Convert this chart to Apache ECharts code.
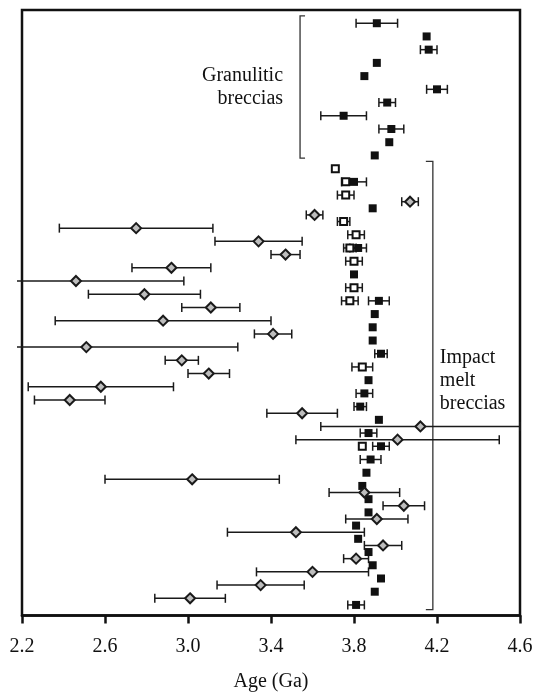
<!DOCTYPE html>
<html>
<head>
<meta charset="utf-8">
<script src="https://cdn.jsdelivr.net/npm/echarts@6/dist/echarts.min.js"></script>
<style>
  html, body { margin: 0; padding: 0; background: #fff; }
  #chart { width: 535px; height: 692px; }
</style>
</head>
<body>
<div id="chart"></div>
<script>
// Age axis tick values (Ga)
const ageTicks = [2.2, 2.6, 3.0, 3.4, 3.8, 4.2, 4.6];

// Filled squares: sample row, age (Ga), error (Ga)
const filledRows = [0, 1, 2, 3, 4, 5, 6, 7, 8, 9, 10, 12, 14, 17, 19, 21, 22, 23, 24, 25, 27, 28, 29, 30, 31, 32, 33, 34, 35, 36, 37, 38, 39, 40, 41, 42, 43, 44];
const filledAges = [3.91, 4.15, 4.16, 3.91, 3.85, 4.20, 3.96, 3.75, 3.98, 3.97, 3.90, 3.80, 3.89, 3.82, 3.80, 3.92, 3.90, 3.89, 3.89, 3.93, 3.87, 3.85, 3.83, 3.92, 3.87, 3.93, 3.88, 3.86, 3.84, 3.87, 3.87, 3.81, 3.82, 3.87, 3.89, 3.93, 3.90, 3.81];
const filledErrs = [0.10, 0, 0.04, 0, 0, 0.05, 0.04, 0.11, 0.06, 0, 0, 0.06, 0, 0.04, 0, 0.05, 0, 0, 0, 0.03, 0, 0.04, 0.03, 0, 0.04, 0.04, 0.05, 0, 0, 0, 0, 0, 0, 0, 0, 0, 0, 0.04];

// Open squares
const openRows = [11, 12, 13, 15, 16, 17, 18, 20, 21, 26, 32];
const openAges = [3.71, 3.76, 3.76, 3.75, 3.81, 3.78, 3.80, 3.80, 3.78, 3.84, 3.84];
const openErrs = [0, 0, 0.04, 0.03, 0.04, 0.03, 0.04, 0.04, 0.04, 0.05, 0];

// Grey diamonds
const diamondRows = [13.5, 14.5, 15.5, 16.5, 17.5, 18.5, 19.5, 20.5, 21.5, 22.5, 23.5, 24.5, 25.5, 26.5, 27.5, 28.5, 29.5, 30.5, 31.5, 34.5, 35.5, 36.5, 37.5, 38.5, 39.5, 40.5, 41.5, 42.5, 43.5];
const diamondAges = [4.07, 3.61, 2.75, 3.34, 3.47, 2.92, 2.46, 2.79, 3.11, 2.88, 3.41, 2.51, 2.97, 3.10, 2.58, 2.43, 3.55, 4.12, 4.01, 3.02, 3.85, 4.04, 3.91, 3.52, 3.94, 3.81, 3.60, 3.35, 3.01];
const diamondErrs = [0.04, 0.04, 0.37, 0.21, 0.07, 0.19, 0.52, 0.27, 0.14, 0.52, 0.09, 0.73, 0.08, 0.10, 0.35, 0.17, 0.17, 0.48, 0.49, 0.42, 0.17, 0.10, 0.15, 0.33, 0.09, 0.06, 0.27, 0.21, 0.17];

// Group labels and the rows each bracket spans
const groupLabels = ['Granulitic\nbreccias', 'Impact\nmelt\nbreccias'];
const groupSpans = [[-0.55, 10.2], [10.45, 44.35]];

const SERIF = '"Liberation Serif", "DejaVu Serif", serif';
const INK = '#111';

// Bracket drawing layout (age position of the bracket spine, tick direction, label offsets)
const bracketLayout = [
  { age: 3.54, side: 1, tick: 5, textDx: -17, textDy: 0, align: 'right' },
  { age: 4.18, side: -1, tick: 7, textDx: 7, textDy: -5, align: 'left' }
];

function toPoints(rows, ages, errs) {
  return rows.map((r, i) => [ages[i], r, errs[i]]);
}

const BAR_OVERRUN = 5; // bars longer than the axis run a few px past the frame
const CAP = 4.5;

function errorBarItem(params, api) {
  const age = api.value(0), row = api.value(1), err = api.value(2);
  if (!err) return null;
  const lo = api.coord([age - err, row]);
  const hi = api.coord([age + err, row]);
  const cs = params.coordSys;
  const leftLimit = cs.x - BAR_OVERRUN;
  const rightLimit = cs.x + cs.width;
  const x1 = Math.max(lo[0], leftLimit);
  const x2 = Math.min(hi[0], rightLimit);
  const y = lo[1];
  const style = { stroke: '#1a1a1a', lineWidth: 1.5 };
  const children = [{ type: 'line', shape: { x1: x1, y1: y, x2: x2, y2: y }, style: style }];
  if (lo[0] >= leftLimit) children.push({ type: 'line', shape: { x1: lo[0], y1: y - CAP, x2: lo[0], y2: y + CAP }, style: style });
  if (hi[0] <= rightLimit) children.push({ type: 'line', shape: { x1: hi[0], y1: y - CAP, x2: hi[0], y2: y + CAP }, style: style });
  return { type: 'group', children: children };
}

function bracketItem(params, api) {
  const b = bracketLayout[params.dataIndex];
  const top = api.coord([api.value(0), api.value(1)]);
  const bot = api.coord([api.value(0), api.value(2)]);
  const x = top[0];
  return {
    type: 'group',
    children: [
      {
        type: 'polyline',
        shape: { points: [[x + b.side * b.tick, top[1]], [x, top[1]], [x, bot[1]], [x + b.side * b.tick, bot[1]]] },
        style: { stroke: '#333', lineWidth: 1.3, fill: null }
      },
      {
        type: 'text',
        x: x + b.textDx,
        y: (top[1] + bot[1]) / 2 + b.textDy,
        style: {
          text: groupLabels[params.dataIndex],
          font: '20px ' + SERIF,
          fill: INK,
          align: b.align,
          verticalAlign: 'middle',
          lineHeight: 23
        }
      }
    ]
  };
}

const filled = toPoints(filledRows, filledAges, filledErrs);
const open = toPoints(openRows, openAges, openErrs);
const diamonds = toPoints(diamondRows, diamondAges, diamondErrs);

const chart = echarts.init(document.getElementById('chart'), null, { renderer: 'canvas' });

chart.setOption({
  animation: false,
  backgroundColor: '#fff',
  grid: {
    left: 22, right: 15, top: 10, bottom: 76.5,
    containLabel: false,
    outerBoundsMode: 'none',
    show: true, borderColor: INK, borderWidth: 2.5, backgroundColor: 'transparent'
  },
  xAxis: {
    type: 'value',
    min: ageTicks[0],
    max: ageTicks[ageTicks.length - 1],
    position: 'bottom',
    name: 'Age (Ga)',
    nameLocation: 'middle',
    nameGap: 56,
    nameTextStyle: { fontFamily: SERIF, fontSize: 20, color: INK },
    axisLine: { show: true, onZero: false, lineStyle: { color: INK, width: 2.5 } },
    axisTick: { show: true, inside: false, length: 8, lineStyle: { color: INK, width: 2.5 }, customValues: ageTicks },
    axisLabel: {
      fontFamily: SERIF, fontSize: 20, color: INK, margin: 21,
      customValues: ageTicks,
      formatter: v => v.toFixed(1)
    },
    splitLine: { show: false }
  },
  yAxis: {
    type: 'value',
    min: -1,
    max: 44.8,
    inverse: true,
    show: false,
    splitLine: { show: false }
  },
  series: [
    {
      type: 'custom', name: 'brackets', renderItem: bracketItem, clip: false, z: 1,
      data: groupSpans.map((s, i) => [bracketLayout[i].age, s[0], s[1]])
    },
    { type: 'custom', name: 'diamond errors', renderItem: errorBarItem, clip: false, z: 2, data: diamonds },
    { type: 'custom', name: 'open errors', renderItem: errorBarItem, clip: false, z: 2, data: open },
    { type: 'custom', name: 'filled errors', renderItem: errorBarItem, clip: false, z: 2, data: filled },
    {
      type: 'scatter', name: 'filled', data: filled, symbol: 'rect', symbolSize: 8, z: 4,
      itemStyle: { color: INK, opacity: 1 }
    },
    {
      type: 'scatter', name: 'open', data: open, symbol: 'rect', symbolSize: 7, z: 5,
      itemStyle: { color: '#fff', borderColor: INK, borderWidth: 2, opacity: 1 }
    },
    {
      type: 'scatter', name: 'diamond', data: diamonds, symbol: 'diamond', symbolSize: [10, 10], z: 6,
      itemStyle: { color: '#bdbdbd', borderColor: '#1a1a1a', borderWidth: 2, opacity: 1 }
    }
  ]
});
</script>
</body>
</html>
